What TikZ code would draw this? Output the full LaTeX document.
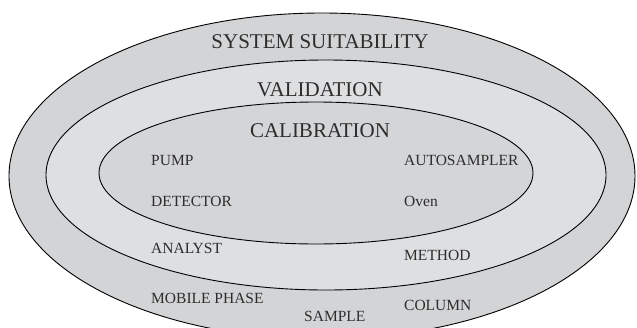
\documentclass[tikz,border=0pt]{standalone}
\usepackage{fontspec}
\setmainfont{Liberation Serif}
\definecolor{ringout}{RGB}{211,212,214}
\definecolor{ringmid}{RGB}{222,223,225}
\definecolor{ringin}{RGB}{212,213,215}
\definecolor{inktext}{RGB}{45,45,45}

\begin{document}
\begin{tikzpicture}[x=1pt, y=-1pt,
    ring/.style={draw=black, line width=0.9pt},
    biglabel/.style={inner sep=0pt, text=inktext, font=\fontsize{21}{24}\selectfont},
    item/.style={inner sep=0pt, anchor=west, text=inktext, font=\fontsize{15.5}{18}\selectfont}]
  \useasboundingbox (0,0) rectangle (637,327);
  \clip (0,0) rectangle (637,327);

  % --- rings ---
  \draw[ring, fill=ringout] (322,176) ellipse [x radius=313, y radius=163];
  \draw[ring, fill=ringmid] (326,175) ellipse [x radius=280, y radius=115];
  \draw[ring, fill=ringin] (316,173) ellipse [x radius=217, y radius=71];

  % --- ring titles ---
  \node[biglabel] (suit) at (320,42) {SYSTEM SUITABILITY};
  \node[biglabel] (valid) at (320,90) {VALIDATION};
  \node[biglabel] (calib) at (320,131) {CALIBRATION};

  % --- calibration ---
  \node[item] (pump) at (151,160) {PUMP};
  \node[item] (autos) at (404,160) {AUTOSAMPLER};
  \node[item] (detect) at (151,201) {DETECTOR};
  \node[item] (oven) at (404,201) {Oven};

  % --- validation ---
  \node[item] (analyst) at (151,248) {ANALYST};
  \node[item] (method) at (404,255) {METHOD};

  % --- system suitability ---
  \node[item] (mobile) at (151,298) {MOBILE PHASE};
  \node[item] (sample) at (304,316) {SAMPLE};
  \node[item] (column) at (404,305) {COLUMN};
\end{tikzpicture}
\end{document}
